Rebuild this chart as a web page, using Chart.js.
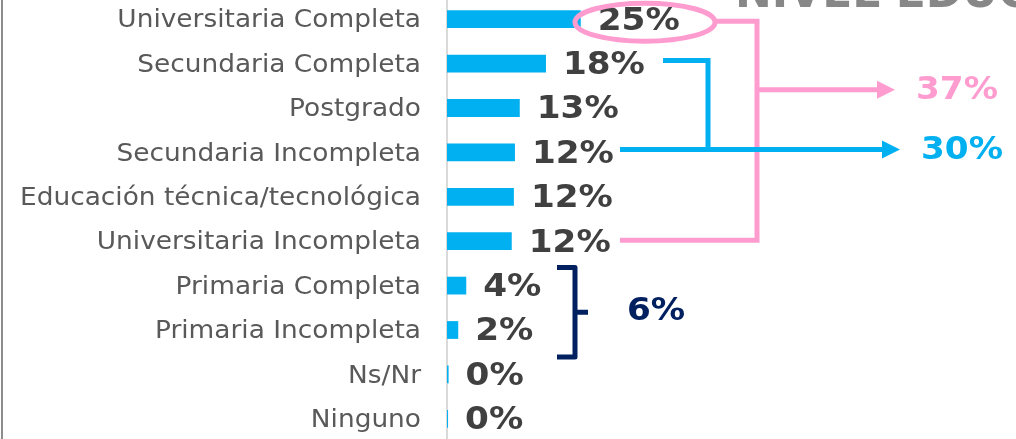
<!DOCTYPE html>
<html>
<head>
<meta charset="utf-8">
<script src="https://cdn.jsdelivr.net/npm/chart.js@4.4.1/dist/chart.umd.min.js"></script>
<style>
  html, body { margin: 0; padding: 0; background: #fff; overflow: hidden; }
  #wrap { position: absolute; left: 0; top: -3px; width: 1016px; height: 444px; }
</style>
</head>
<body>
<div id="wrap"><canvas id="eduChart"></canvas></div>
<script>
// Data
const categories = [
    'Universitaria Completa',
    'Secundaria Completa',
    'Postgrado',
    'Secundaria Incompleta',
    'Educación técnica/tecnológica',
    'Universitaria Incompleta',
    'Primaria Completa',
    'Primaria Incompleta',
    'Ns/Nr',
    'Ninguno'
];
// bar lengths (%)
const shares = [25.0, 18.5, 13.6, 12.7, 12.5, 12.1, 3.6, 2.1, 0.3, 0.2];
// value labels as printed on the picture
const pctLabels = [25, 18, 13, 12, 12, 12, 4, 2, 0, 0];
const titleText = 'NIVEL EDUCATIVO';

// groups summed in the callouts (indexes into categories)
const pinkGroup = [0, 5];
const blueGroup = [1, 3];
const navyGroup = [6, 7];

const CYAN = '#00B0F0';
const PINK = '#FF9CCF';
const NAVY = '#002060';

function groupSum(g) { return g.reduce((s, i) => s + pctLabels[i], 0); }

function arrow(ctx, x1, y, x2, color) {
    ctx.strokeStyle = color;
    ctx.fillStyle = color;
    ctx.beginPath();
    ctx.moveTo(x1, y);
    ctx.lineTo(x2 - 16, y);
    ctx.stroke();
    ctx.beginPath();
    ctx.moveTo(x2 - 18, y - 9);
    ctx.lineTo(x2, y);
    ctx.lineTo(x2 - 18, y + 9);
    ctx.closePath();
    ctx.fill();
}

function wideText(ctx, text, x, y, sx) {
    ctx.save();
    ctx.translate(x, y);
    ctx.scale(sx, 1);
    ctx.fillText(text, 0, 0);
    ctx.restore();
}

// category names, drawn a bit wider than DejaVu (reference uses a Verdana-like face)
const categoryLabels = {
    id: 'categoryLabels',
    afterDraw(chart) {
        const ctx = chart.ctx;
        const yScale = chart.scales.y;
        ctx.save();
        ctx.font = '24px "DejaVu Sans"';
        ctx.fillStyle = '#595959';
        ctx.textAlign = 'right';
        ctx.textBaseline = 'middle';
        categories.forEach((c, i) => {
            wideText(ctx, c, yScale.right - 26, yScale.getPixelForTick(i) + 2, 1.1);
        });
        ctx.restore();
    }
};

const valueLabels = {
    id: 'valueLabels',
    afterDatasetsDraw(chart) {
        const ctx = chart.ctx;
        const bars = chart.getDatasetMeta(0).data;
        ctx.save();
        ctx.font = 'bold 32px "DejaVu Sans"';
        ctx.fillStyle = '#404040';
        ctx.textAlign = 'left';
        ctx.textBaseline = 'middle';
        bars.forEach((bar, i) => {
            wideText(ctx, pctLabels[i] + '%', bar.x + 17, bar.y + 2, 1.07);
        });
        ctx.restore();
    }
};

const callouts = {
    id: 'callouts',
    afterDraw(chart) {
        const ctx = chart.ctx;
        const bars = chart.getDatasetMeta(0).data;
        const y = i => bars[i].y;
        ctx.save();

        // left frame line
        ctx.fillStyle = '#8c8c8c';
        ctx.fillRect(1, 0, 2, chart.height);

        // cut-off title
        ctx.fillStyle = '#878787';
        ctx.font = 'bold 44px "DejaVu Sans"';
        ctx.textBaseline = 'alphabetic';
        ctx.textAlign = 'left';
        ctx.fillText(titleText, 735, 10);

        ctx.lineWidth = 5;
        ctx.lineCap = 'butt';
        ctx.lineJoin = 'miter';

        // pink: ellipse around the top value and connector
        const pTop = y(pinkGroup[0]) + 2;
        const pBot = y(pinkGroup[1]) - 1;
        const vx = 757;
        ctx.strokeStyle = PINK;
        ctx.beginPath();
        ctx.ellipse(645, pTop + 1, 70, 19, 0, 0, Math.PI * 2);
        ctx.stroke();
        ctx.beginPath();
        ctx.moveTo(715, pTop);
        ctx.lineTo(vx, pTop);
        ctx.lineTo(vx, pBot);
        ctx.lineTo(620, pBot);
        ctx.stroke();
        const pArrowY = (y(1) + y(2)) / 2 + 4;
        arrow(ctx, vx, pArrowY, 895, PINK);

        // blue connector
        const bTop = y(blueGroup[0]) - 3;
        const bBot = y(blueGroup[1]) - 3;
        const bx = 708;
        ctx.strokeStyle = CYAN;
        ctx.beginPath();
        ctx.moveTo(663, bTop);
        ctx.lineTo(bx, bTop);
        ctx.lineTo(bx, bBot);
        ctx.stroke();
        arrow(ctx, 620, bBot, 900, CYAN);

        // navy bracket
        const nTop = y(navyGroup[0]) - 18;
        const nBot = y(navyGroup[1]) + 27;
        const nMid = (nTop + nBot) / 2;
        ctx.strokeStyle = NAVY;
        ctx.lineJoin = 'round';
        ctx.beginPath();
        ctx.moveTo(557, nTop);
        ctx.lineTo(575, nTop);
        ctx.lineTo(575, nBot);
        ctx.lineTo(557, nBot);
        ctx.moveTo(575, nMid);
        ctx.lineTo(588, nMid);
        ctx.stroke();

        // totals
        ctx.font = 'bold 32px "DejaVu Sans"';
        ctx.textBaseline = 'middle';
        ctx.fillStyle = PINK;
        wideText(ctx, groupSum(pinkGroup) + '%', 916, pArrowY + 1, 1.07);
        ctx.fillStyle = CYAN;
        wideText(ctx, groupSum(blueGroup) + '%', 921, bBot + 1, 1.07);
        ctx.fillStyle = NAVY;
        wideText(ctx, groupSum(navyGroup) + '%', 627, nMid - 1, 1.07);

        ctx.restore();
    }
};

const eduCtx = document.getElementById('eduChart').getContext('2d');
const eduChart = new Chart(eduCtx, {
    type: 'bar',
    data: {
        labels: categories,
        datasets: [{
            label: 'Nivel educativo',
            data: shares,
            backgroundColor: CYAN,
            barPercentage: 0.4,
            categoryPercentage: 1.0
        }]
    },
    options: {
        indexAxis: 'y',
        responsive: true,
        maintainAspectRatio: false,
        animation: false,
        layout: { autoPadding: false, padding: { left: 0, right: 34, top: 0, bottom: 0 } },
        plugins: {
            legend: { display: false },
            tooltip: { enabled: false }
        },
        scales: {
            x: { display: false, min: 0, max: 100 },
            y: {
                grid: { display: false, drawTicks: false },
                border: { display: true, color: '#d9d9d9', width: 2 },
                ticks: { display: false },
                afterFit(scale) {
                    scale.width = 447;
                    scale.paddingTop = 0;
                    scale.paddingBottom = 0;
                }
            }
        }
    },
    plugins: [valueLabels, categoryLabels, callouts]
});
</script>
</body>
</html>
